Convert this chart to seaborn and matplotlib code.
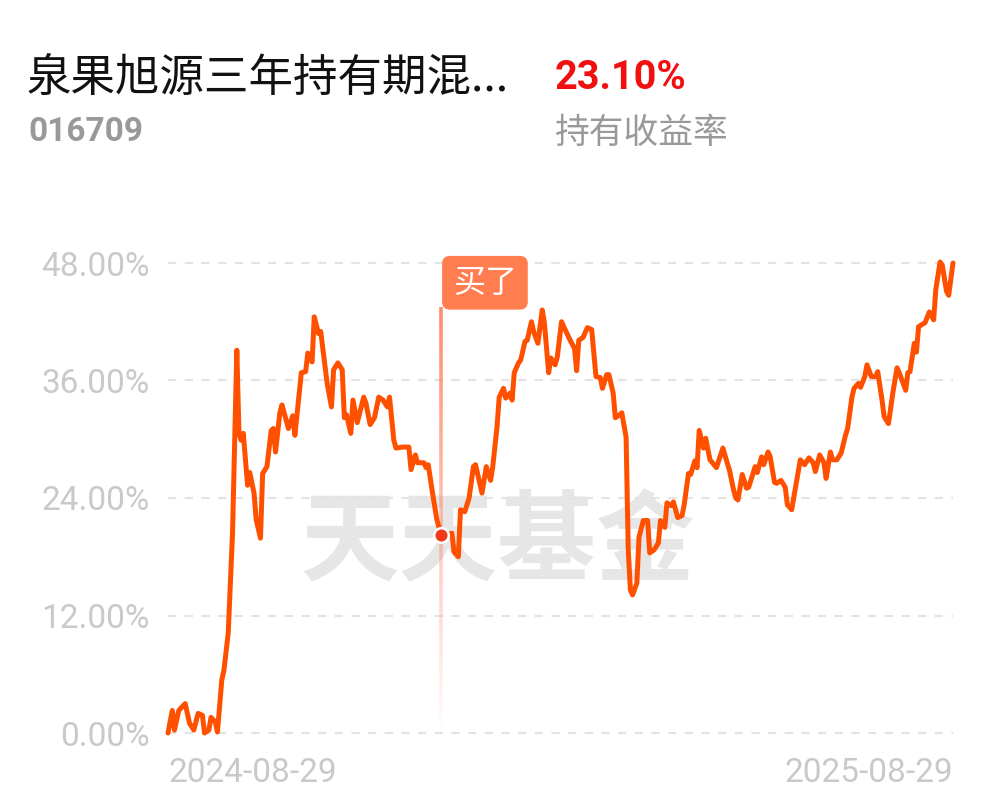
import numpy as np
import pandas as pd
import matplotlib
matplotlib.use("Agg")
import matplotlib.pyplot as plt
import seaborn as sns
from matplotlib.collections import LineCollection

# ---------------- data ----------------
title_text = "泉果旭源三年持有期混..."
fund_code = "016709"
hold_return = "23.10%"
hold_label = "持有收益率"
watermark = "天天基金"
buy_label = "买了"
start_date = "2024-08-29"
end_date = "2025-08-29"
buy_day = 127
buy_value = 20.2

days = [0, 2, 3, 5, 8, 10, 12, 14, 16, 17,
        19, 20, 22, 23, 25, 26, 28, 30, 31, 32,
        33, 34, 35, 37, 38, 40, 41, 43, 44, 46,
        48, 49, 50, 52, 53, 56, 58, 59, 62, 64,
        65, 67, 68, 70, 71, 74, 76, 77, 79, 81,
        82, 83, 85, 86, 88, 91, 92, 94, 96, 98,
        100, 102, 103, 105, 106, 109, 112, 113, 115, 116,
        119, 120, 121, 123, 125, 127,
        132, 133, 135, 136, 138, 140, 142, 143, 145, 146,
        148, 150, 151, 153, 154, 156, 157, 159, 160, 161,
        163, 164, 166, 167, 169, 170, 172, 174, 175, 177,
        178, 180, 181, 183, 184, 187, 189, 190, 191, 193,
        195, 197, 199, 201, 202, 204, 205, 207, 208, 210,
        211, 213, 214, 215, 216, 218, 219, 221, 223, 224,
        226, 228, 229, 231, 232, 234, 235, 237, 239, 240,
        242, 243, 245, 246, 247, 249, 250, 252, 255, 258,
        260, 261, 263, 264, 265, 267, 269, 270, 273, 274,
        276, 277, 279, 280, 282, 283, 285, 287, 288, 290,
        291, 294, 296, 298, 300, 301, 303, 305, 306, 308,
        309, 311, 313, 315, 316, 318, 319, 321, 322, 324,
        325, 327, 329, 330, 332, 333, 335, 337, 339, 340,
        343, 344, 345, 347, 348, 349, 352, 354, 356, 357,
        359, 360, 362, 363, 365]

returns = [0.0, 2.3, 0.3, 2.3, 3.0, 1.0, 0.3, 2.0, 1.8, 0.0,
           0.3, 1.6, 1.1, 0.1, 5.4, 6.4, 10.2, 20.4, 29.9, 39.1,
           30.6, 29.9, 30.6, 25.3, 26.6, 24.5, 21.8, 19.9, 26.5, 27.2,
           30.9, 31.1, 28.7, 32.7, 33.5, 31.1, 32.4, 30.4, 36.8, 36.9,
           38.8, 37.9, 42.5, 40.8, 41.0, 35.7, 33.3, 37.1, 37.8, 37.1,
           32.2, 32.5, 30.6, 34.0, 31.7, 34.3, 33.7, 31.5, 32.2, 34.3,
           34.0, 33.3, 34.3, 29.9, 29.1, 29.2, 29.2, 26.9, 28.4, 27.6,
           27.6, 27.1, 27.4, 24.5, 21.8, 20.2,
           20.4, 18.5, 18.0, 22.8, 22.6, 24.0, 27.2, 27.4, 25.5, 24.5,
           27.2, 25.8, 27.2, 31.3, 34.3, 35.2, 34.2, 34.7, 34.0, 36.8,
           37.8, 38.1, 40.0, 40.1, 42.0, 41.0, 39.8, 43.2, 41.9, 36.8,
           38.3, 37.6, 38.4, 42.0, 41.5, 40.1, 39.3, 37.0, 40.1, 40.4,
           41.4, 41.2, 36.4, 36.3, 35.2, 36.6, 36.6, 34.7, 32.2, 32.5,
           32.7, 30.2, 18.7, 14.6, 14.1, 15.3, 20.0, 21.7, 21.7, 18.4,
           18.7, 19.4, 21.7, 21.0, 23.5, 23.2, 23.6, 22.0, 22.2, 23.3,
           26.5, 26.4, 27.8, 27.1, 30.9, 29.1, 30.1, 27.9, 27.1, 29.1,
           27.6, 26.9, 24.8, 24.0, 23.8, 26.4, 25.0, 25.1, 27.2, 26.6,
           28.2, 27.4, 28.7, 28.2, 25.6, 25.5, 25.8, 25.1, 23.3, 22.8,
           24.1, 27.9, 27.4, 28.1, 27.6, 26.7, 28.4, 27.6, 26.0, 28.7,
           27.9, 27.9, 28.6, 30.4, 31.1, 34.3, 35.2, 35.7, 35.3, 36.4,
           37.6, 36.4, 36.4, 36.9, 34.0, 32.3, 31.6, 34.7, 37.3, 36.8,
           35.0, 36.8, 36.9, 39.8, 38.9, 41.5, 41.9, 43.0, 42.2, 45.3,
           48.1, 47.8, 45.1, 44.7, 48.0]

y_ticks = [0, 12, 24, 36, 48]
y_tick_labels = ["0.00%", "12.00%", "24.00%", "36.00%", "48.00%"]
x_tick_labels = [start_date, end_date]

# ---------------- styling ----------------
sns.set_theme(style="white")
plt.rcParams["font.family"] = ["Noto Sans CJK SC", "DejaVu Sans"]

LINE_C = "#FF5000"
GRID_C = "#E3E3E3"
TICK_C = "#C9C9C9"

W, H = 997, 802
fig = plt.figure(figsize=(W / 100, H / 100), dpi=100)
fig.patch.set_facecolor("white")

def fx(px):
    return px / W

def fy(py):
    return 1 - py / H

ppp = 470 / 48.0  # pixels per percent
ax = fig.add_axes([fx(168), fy(745), fx(953) - fx(168), fy(250) - fy(745)])
ax.set_facecolor("white")

t0 = pd.Timestamp(start_date)
df = pd.DataFrame({"date": t0 + pd.to_timedelta(days, unit="D"), "ret": returns})

# watermark
ax.text(0.420, 0.405, watermark, transform=ax.transAxes, ha="center", va="center",
        fontsize=71, fontweight="bold", color="#E6E6E6",
        family=["Noto Sans CJK SC"], zorder=0)

# gridlines
for yt in y_ticks:
    ax.axhline(yt, color=GRID_C, lw=1.5, ls=(0, (4, 4)), zorder=1)

# buy marker vertical gradient line
buy_date = t0 + pd.Timedelta(days=buy_day)
bx = matplotlib.dates.date2num(buy_date)
y_top, y_bot = 43.5, 0.8
n = 80
ys = np.linspace(y_top, y_bot, n + 1)
segs = [[(bx, ys[i]), (bx, ys[i + 1])] for i in range(n)]
alphas = np.linspace(0.85, 0.03, n)
cols = [(1.0, 0.47, 0.32, a) for a in alphas]
lc = LineCollection(segs, colors=cols, linewidths=2.6, zorder=2, capstyle="butt")
ax.add_collection(lc)

sns.lineplot(data=df, x="date", y="ret", ax=ax, color=LINE_C, lw=3.6,
             zorder=3, clip_on=False)

ax.plot([buy_date], [buy_value], "o", ms=10.5, mfc="#F03A1A", mec="white",
        mew=1.8, zorder=4, clip_on=False)

# buy label box
ax.annotate(buy_label, xy=(buy_date, y_top), xytext=(8.5, 17.5),
            textcoords="offset points", ha="left", va="center",
            fontsize=23, color="white", zorder=5,
            bbox=dict(boxstyle="round,pad=0.34,rounding_size=0.25",
                      fc="#FF7D4F", ec="none"))

ax.set_xlim(t0, pd.Timestamp(end_date))
ax.set_ylim(-12 / ppp, 48 + 13 / ppp)
ax.set_yticks(y_ticks)
ax.set_yticklabels(y_tick_labels)
ax.set_xticks([t0, pd.Timestamp(end_date)])
ax.set_xticklabels(x_tick_labels)
for s in ax.spines.values():
    s.set_visible(False)
ax.tick_params(axis="both", length=0, colors=TICK_C)
ax.tick_params(axis="y", pad=13)
ax.tick_params(axis="x", pad=9)
for lab in ax.get_yticklabels():
    lab.set_fontfamily(["Roboto", "DejaVu Sans"])
    lab.set_fontsize(24)
    lab.set_color(TICK_C)
xl = ax.get_xticklabels()
for lab in xl:
    lab.set_fontfamily(["Roboto", "DejaVu Sans"])
    lab.set_fontsize(24)
    lab.set_color(TICK_C)
xl[0].set_ha("left")
xl[-1].set_ha("right")
ax.set_xlabel("")
ax.set_ylabel("")
ax.grid(False)

# header texts
fig.text(fx(26), fy(78), title_text, ha="left", va="center", fontsize=32,
         color="#111111", family=["Noto Sans CJK SC", "DejaVu Sans"])
fig.text(fx(28), fy(132), fund_code, ha="left", va="center", fontsize=24,
         color="#999999", fontweight="bold",
         family=["Roboto", "DejaVu Sans"])
fig.text(fx(555), fy(78), hold_return, ha="left", va="center", fontsize=28.5,
         color="#F01010", fontweight="bold",
         family=["Roboto", "DejaVu Sans"])
fig.text(fx(555), fy(133), hold_label, ha="left", va="center", fontsize=25,
         color="#999999", family=["Noto Sans CJK SC", "DejaVu Sans"])

fig.savefig("out.png", dpi=100, facecolor="white")
